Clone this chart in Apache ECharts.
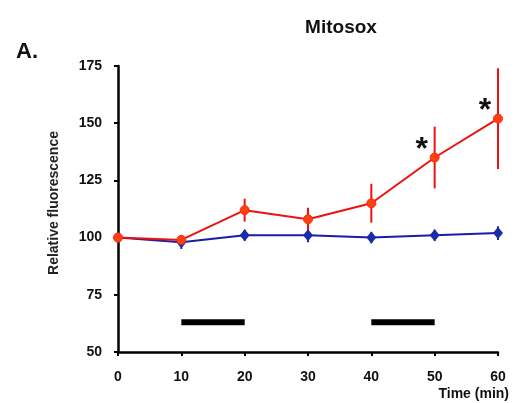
<!DOCTYPE html>
<html><head><meta charset="utf-8">
<script src="https://cdn.jsdelivr.net/npm/echarts@6/dist/echarts.min.js"></script>
<style>html,body{margin:0;padding:0;background:#fff}#c{width:515px;height:403px}</style>
</head><body><div id="c"></div>
<script>
const times = [0, 10, 20, 30, 40, 50, 60];
const redValues = [100, 99, 112, 108, 115, 135, 152];
const redErrors = [1, 2, 5, 5, 8.5, 13.5, 22];
const blueValues = [100, 98, 101, 101, 100, 101, 102];
const blueErrors = [1, 3, 2.5, 3, 2.5, 2.5, 3];
const sigPoints = [[50, 135], [60, 152]];
const treatments = [[10, 20], [40, 50]];
const treatmentLevel = 63;
const yTicks = [50, 75, 100, 125, 150, 175];
const xTicks = [0, 10, 20, 30, 40, 50, 60];

const FONT = 'Liberation Sans';
const chart = echarts.init(document.getElementById('c'), null, {renderer: 'canvas'});

function errSeries(vals, errs, color) {
  return {
    type: 'custom', z: 3,
    data: times.map((t, i) => [t, vals[i] - errs[i], vals[i] + errs[i]]),
    renderItem: (params, api) => {
      const lo = api.coord([api.value(0), api.value(1)]);
      const hi = api.coord([api.value(0), api.value(2)]);
      return {type: 'line', shape: {x1: lo[0], y1: lo[1], x2: hi[0], y2: hi[1]},
        style: {stroke: color, lineWidth: 2}};
    }
  };
}

chart.setOption({
  animation: false,
  backgroundColor: '#fff',
  title: [
    {text: 'Mitosox', left: 336, top: 13, textAlign: 'center',
      textStyle: {fontFamily: FONT, fontSize: 19, fontWeight: 'bold', color: '#111'}},
    {text: 'A.', left: 11, top: 36,
      textStyle: {fontFamily: FONT, fontSize: 22, fontWeight: 'bold', color: '#111'}},
    {text: 'Time (min)', right: 1, top: 382,
      textStyle: {fontFamily: FONT, fontSize: 14, fontWeight: 'bold', color: '#111'}}
  ],
  grid: {left: 118, right: 17, top: 66, bottom: 51},
  xAxis: {
    type: 'value', min: 0, max: 60, interval: 10,
    axisLine: {lineStyle: {color: '#000', width: 2.5}},
    axisTick: {show: true, length: 4, lineStyle: {color: '#000', width: 2}},
    splitLine: {show: false},
    axisLabel: {margin: 18, fontFamily: FONT, fontSize: 14, fontWeight: 'bold', color: '#111',
      formatter: v => xTicks.includes(v) ? String(v) : ''}
  },
  yAxis: {
    type: 'value', min: 50, max: 175, interval: 25,
    name: 'Relative fluorescence', nameLocation: 'middle', nameGap: 57,
    nameTextStyle: {fontFamily: FONT, fontSize: 14, fontWeight: 'bold', color: '#222',
      padding: [0, 0, 0, 12]},
    axisLine: {show: true, lineStyle: {color: '#000', width: 2.5}},
    axisTick: {show: true, length: 4, lineStyle: {color: '#000', width: 2}},
    splitLine: {show: false},
    axisLabel: {margin: 16, fontFamily: FONT, fontSize: 14, fontWeight: 'bold', color: '#111',
      formatter: v => yTicks.includes(v) ? String(v) : ''}
  },
  series: [
    {
      type: 'custom', z: 2,
      data: treatments.map(t => [t[0], t[1], treatmentLevel]),
      renderItem: (params, api) => {
        const a = api.coord([api.value(0), api.value(2)]);
        const b = api.coord([api.value(1), api.value(2)]);
        return {type: 'rect', shape: {x: a[0], y: a[1] - 3, width: b[0] - a[0], height: 6},
          style: {fill: '#000'}};
      }
    },
    {
      type: 'line', z: 4, data: times.map((t, i) => [t, blueValues[i]]),
      symbol: 'diamond', symbolSize: [10, 12],
      lineStyle: {color: '#1c1ca8', width: 2},
      itemStyle: {color: '#1a2aa8'}
    },
    errSeries(blueValues, blueErrors, '#1a2aa8'),
    errSeries(redValues, redErrors, '#ee1111'),
    {
      type: 'line', z: 5, data: times.map((t, i) => [t, redValues[i]]),
      symbol: 'circle', symbolSize: 9,
      lineStyle: {color: '#ee1111', width: 2},
      itemStyle: {color: '#ff4010', borderColor: '#ff2a10', borderWidth: 1}
    },
    {
      type: 'custom', z: 6, data: sigPoints,
      renderItem: (params, api) => {
        const p = api.coord([api.value(0), api.value(1)]);
        return {type: 'text', x: p[0] - 13, y: p[1] - 7,
          style: {text: '*', fontFamily: FONT, fontSize: 32, fontWeight: 'bold', fill: '#111',
            align: 'center', verticalAlign: 'middle'}};
      }
    }
  ]
});
</script></body></html>
